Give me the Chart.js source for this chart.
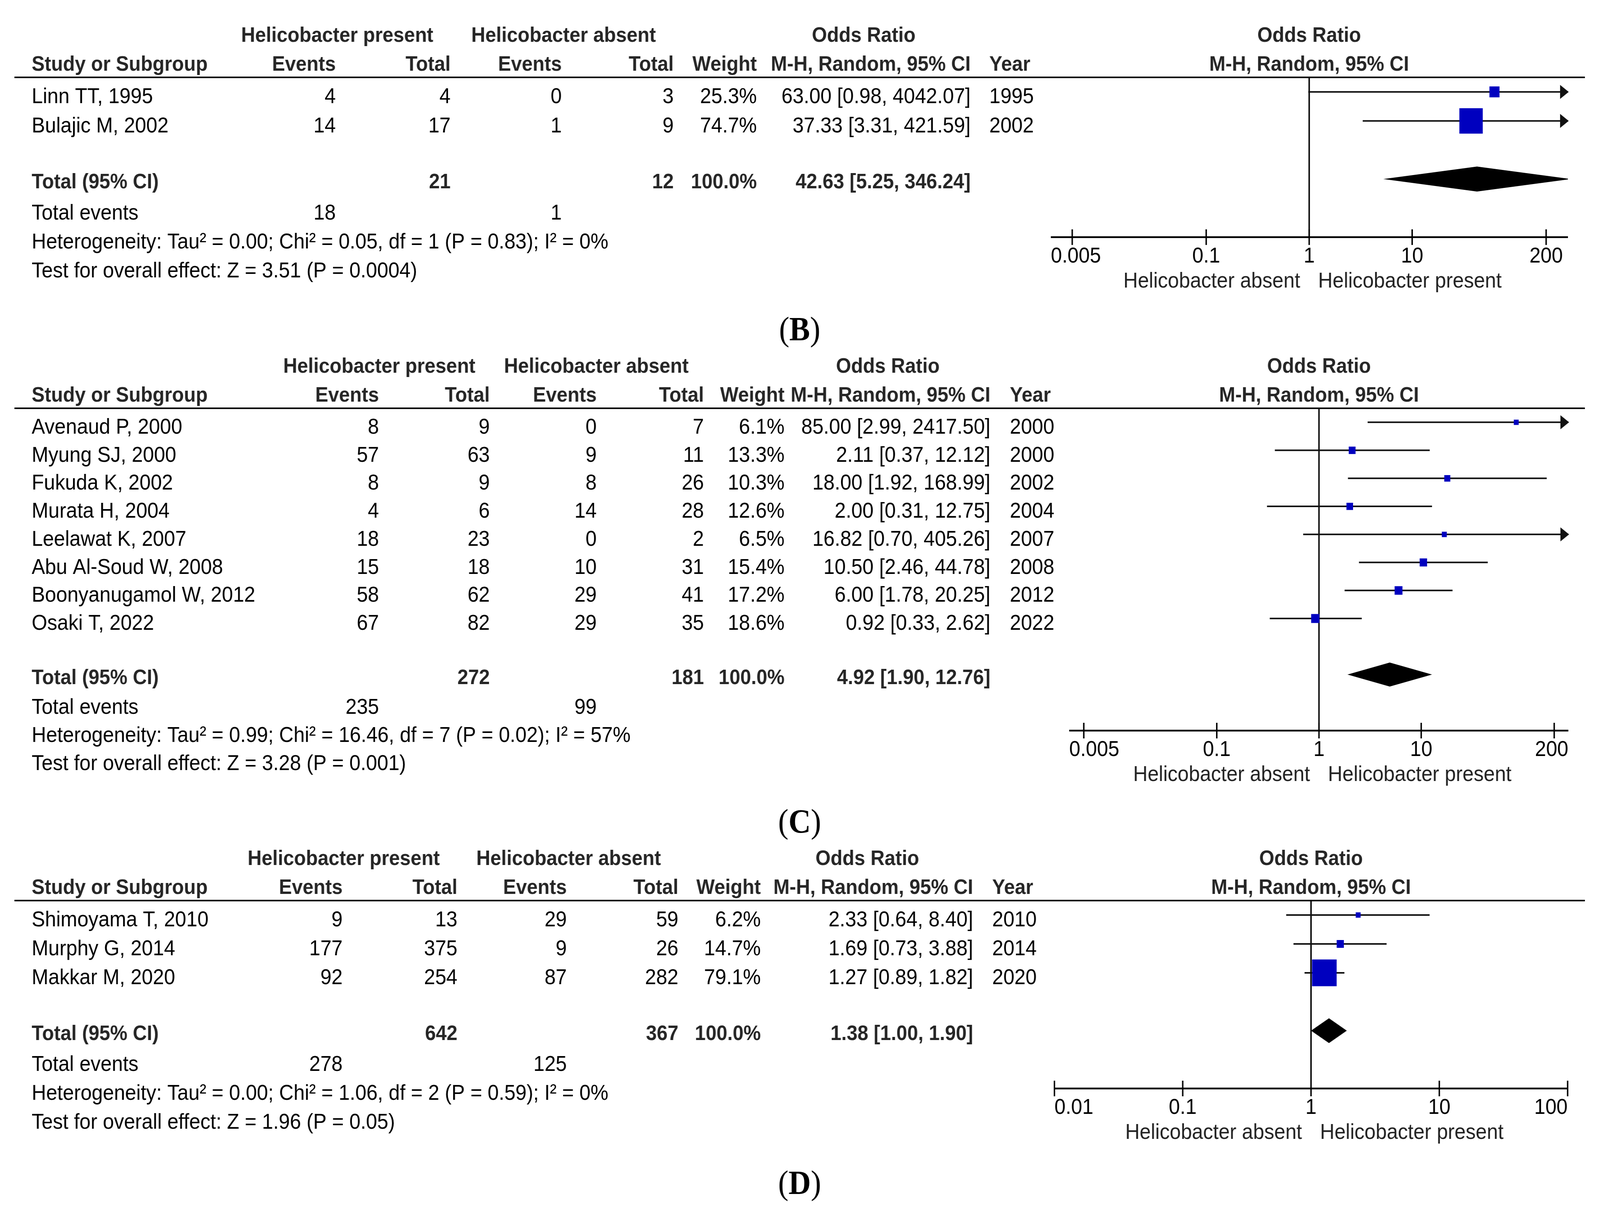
<!DOCTYPE html>
<html>
<head>
<meta charset="utf-8">
<script src="https://cdn.jsdelivr.net/npm/chart.js@4.4.0/dist/chart.umd.min.js"></script>
<style>
html, body { margin: 0; padding: 0; background: #fff; width: 100%; height: 100%; overflow: hidden; }
#forest-page { position: relative; width: 100vw; height: 100vh; overflow: hidden; background: #fff; }
#forest-page canvas { position: absolute; left: 0; top: 0; display: block; }
</style>
</head>
<body>
<div id="forest-page">
    <canvas id="forestB" width="4446" height="3097" style="width:100vw;height:100vh;"></canvas>
    <canvas id="forestC" width="4446" height="3097" style="width:100vw;height:100vh;"></canvas>
    <canvas id="forestD" width="4446" height="3097" style="width:100vw;height:100vh;"></canvas>
</div>

<script>
// ---- Panel B data
const studiesB = ['Linn TT, 1995', 'Bulajic M, 2002'];
const presEventsB = [4, 14];
const presTotalB = [4, 17];
const absEventsB = [0, 1];
const absTotalB = [3, 9];
const weightB = [25.3, 74.7];
const orB = [63.00, 37.33];
const loB = [0.98, 3.31];
const hiB = [4042.07, 421.59];
const yearB = [1995, 2002];
const totalsB = [21, 12];
const eventsB = [18, 1];
const pooledB = [42.63, 5.25, 346.24];
const hetB = 'Heterogeneity: Tau\u00b2 = 0.00; Chi\u00b2 = 0.05, df = 1 (P = 0.83); I\u00b2 = 0%';
const testB = 'Test for overall effect: Z = 3.51 (P = 0.0004)';
const ticksB = [0.005, 0.1, 1, 10, 200];
const tickLabelsB = ['0.005', '0.1', '1', '10', '200'];

// ---- Panel C data
const studiesC = ['Avenaud P, 2000', 'Myung SJ, 2000', 'Fukuda K, 2002', 'Murata H, 2004',
    'Leelawat K, 2007', 'Abu Al-Soud W, 2008', 'Boonyanugamol W, 2012', 'Osaki T, 2022'];
const presEventsC = [8, 57, 8, 4, 18, 15, 58, 67];
const presTotalC = [9, 63, 9, 6, 23, 18, 62, 82];
const absEventsC = [0, 9, 8, 14, 0, 10, 29, 29];
const absTotalC = [7, 11, 26, 28, 2, 31, 41, 35];
const weightC = [6.1, 13.3, 10.3, 12.6, 6.5, 15.4, 17.2, 18.6];
const orC = [85.00, 2.11, 18.00, 2.00, 16.82, 10.50, 6.00, 0.92];
const loC = [2.99, 0.37, 1.92, 0.31, 0.70, 2.46, 1.78, 0.33];
const hiC = [2417.50, 12.12, 168.99, 12.75, 405.26, 44.78, 20.25, 2.62];
const yearC = [2000, 2000, 2002, 2004, 2007, 2008, 2012, 2022];
const totalsC = [272, 181];
const eventsC = [235, 99];
const pooledC = [4.92, 1.90, 12.76];
const hetC = 'Heterogeneity: Tau\u00b2 = 0.99; Chi\u00b2 = 16.46, df = 7 (P = 0.02); I\u00b2 = 57%';
const testC = 'Test for overall effect: Z = 3.28 (P = 0.001)';
const ticksC = [0.005, 0.1, 1, 10, 200];
const tickLabelsC = ['0.005', '0.1', '1', '10', '200'];

// ---- Panel D data
const studiesD = ['Shimoyama T, 2010', 'Murphy G, 2014', 'Makkar M, 2020'];
const presEventsD = [9, 177, 92];
const presTotalD = [13, 375, 254];
const absEventsD = [29, 9, 87];
const absTotalD = [59, 26, 282];
const weightD = [6.2, 14.7, 79.1];
const orD = [2.33, 1.69, 1.27];
const loD = [0.64, 0.73, 0.89];
const hiD = [8.40, 3.88, 1.82];
const yearD = [2010, 2014, 2020];
const totalsD = [642, 367];
const eventsD = [278, 125];
const pooledD = [1.38, 1.00, 1.90];
const hetD = 'Heterogeneity: Tau\u00b2 = 0.00; Chi\u00b2 = 1.06, df = 2 (P = 0.59); I\u00b2 = 0%';
const testD = 'Test for overall effect: Z = 1.96 (P = 0.05)';
const ticksD = [0.01, 0.1, 1, 10, 100];
const tickLabelsD = ['0.01', '0.1', '1', '10', '100'];

(function() {
    'use strict';

    const PAGE_W = 4446, PAGE_H = 3097;
    const SANS = '"Liberation Sans", Arial, sans-serif';
    const SERIF = '"Liberation Serif", "Times New Roman", serif';
    const HEAD_COLOR = '#262626';
    const SQUARE_COLOR = '#0000BF';

    // page geometry of each panel (pixels of the 4446x3097 drawing)
    const layoutB = { label: 'B', labelY: 871, headerY: 198, axisY: 607, axisL: 2920, axisR: 4357,
        xMin: 0.0031, xMax: 326,
        presEv: 933, presTot: 1252, absEv: 1561, absTot: 1872, weight: 2103, orR: 2697, yearL: 2749,
        presHdr: 937, absHdr: 1566, orHdr: 2400 };
    const layoutC = { label: 'C', labelY: 2131, headerY: 1045, axisY: 1870, axisL: 2971, axisR: 4358,
        xMin: 0.0036, xMax: 275,
        presEv: 1053, presTot: 1361, absEv: 1658, absTot: 1956, weight: 2180, orR: 2752, yearL: 2806,
        presHdr: 1054, absHdr: 1657, orHdr: 2467 };
    const layoutD = { label: 'D', labelY: 3056, headerY: 2305, axisY: 2786, axisL: 2930, axisR: 4356,
        xMin: 0.01, xMax: 100,
        presEv: 952, presTot: 1271, absEv: 1575, absTot: 1885, weight: 2114, orR: 2704, yearL: 2757,
        presHdr: 955, absHdr: 1580, orHdr: 2410 };

    function fmt2(v) { return v.toFixed(2); }
    function ciText(o, l, h) { return fmt2(o) + ' [' + fmt2(l) + ', ' + fmt2(h) + ']'; }

    function text(ctx, s, x, y, align, bold, color) {
        ctx.font = (bold ? 'bold 54px ' : '55.6px ') + SANS;
        ctx.textAlign = align;
        ctx.textBaseline = 'alphabetic';
        ctx.fillStyle = color || '#000';
        ctx.fillText(String(s), x, y);
    }

    function line(ctx, x1, y1, x2, y2) {
        ctx.beginPath();
        ctx.moveTo(x1, y1);
        ctx.lineTo(x2, y2);
        ctx.stroke();
    }

    function makeForest(canvasId, d, L) {
        const n = d.studies.length;

        const forestPlugin = {
            id: 'forestParts',
            beforeDatasetsDraw(chart) {
                const ctx = chart.ctx, xs = chart.scales.x, ys = chart.scales.y, a = chart.chartArea;
                const x1 = xs.getPixelForValue(1);
                ctx.save();
                ctx.lineCap = 'butt';
                ctx.strokeStyle = '#000';

                // header rule across the whole table
                ctx.lineWidth = 4;
                line(ctx, 40, a.top, 4404, a.top);

                // line of no effect
                line(ctx, x1, a.top, x1, a.bottom);

                // confidence intervals
                ctx.strokeStyle = '#111';
                ctx.fillStyle = '#111';
                for (let i = 0; i < n; i++) {
                    const yy = ys.getPixelForValue(i);
                    const pl = Math.max(a.left, xs.getPixelForValue(d.lo[i]));
                    const ph = Math.min(a.right, xs.getPixelForValue(d.hi[i]));
                    ctx.lineWidth = 4;
                    line(ctx, pl, yy, ph, yy);
                    if (d.hi[i] > L.xMax) {
                        ctx.beginPath();
                        ctx.moveTo(a.right + 2, yy);
                        ctx.lineTo(a.right - 22, yy - 18);
                        ctx.lineTo(a.right - 22, yy + 18);
                        ctx.closePath();
                        ctx.fill();
                    }
                    if (d.lo[i] < L.xMin) {
                        ctx.beginPath();
                        ctx.moveTo(a.left - 2, yy);
                        ctx.lineTo(a.left + 22, yy - 18);
                        ctx.lineTo(a.left + 22, yy + 18);
                        ctx.closePath();
                        ctx.fill();
                    }
                }

                // pooled estimate diamond
                const yt = ys.getPixelForValue(n + 1);
                const half = Math.abs(ys.getPixelForValue(0.43) - ys.getPixelForValue(0));
                ctx.save();
                ctx.beginPath();
                ctx.rect(a.left, a.top, a.right - a.left, a.bottom - a.top);
                ctx.clip();
                ctx.fillStyle = '#000';
                ctx.beginPath();
                ctx.moveTo(xs.getPixelForValue(d.pooled[1]), yt);
                ctx.lineTo(xs.getPixelForValue(d.pooled[0]), yt - half);
                ctx.lineTo(xs.getPixelForValue(d.pooled[2]), yt);
                ctx.lineTo(xs.getPixelForValue(d.pooled[0]), yt + half);
                ctx.closePath();
                ctx.fill();
                ctx.restore();

                // x axis with ticks
                ctx.strokeStyle = '#000';
                ctx.lineWidth = 4.5;
                line(ctx, a.left, a.bottom, a.right, a.bottom);
                ctx.lineWidth = 4;
                ctx.font = '55.6px ' + SANS;
                ctx.fillStyle = '#000';
                ctx.textAlign = 'left';
                ctx.textBaseline = 'alphabetic';
                d.ticks.forEach(function(t, k) {
                    const tx = xs.getPixelForValue(t);
                    line(ctx, tx, a.bottom - 20, tx, a.bottom + 20);
                    const w = ctx.measureText(d.tickLabels[k]).width;
                    const lx = Math.min(Math.max(tx - w / 2, a.left), a.right - w);
                    ctx.fillText(d.tickLabels[k], lx, a.bottom + 65);
                });
                text(ctx, 'Helicobacter absent', x1 - 25, a.bottom + 129, 'right', false, '#222');
                text(ctx, 'Helicobacter present', x1 + 25, a.bottom + 129, 'left', false, '#222');
                ctx.restore();
            },
            afterDraw(chart) {
                const ctx = chart.ctx, ys = chart.scales.y, xs = chart.scales.x;
                const top = chart.chartArea.top;
                const base = function(row) { return ys.getPixelForValue(row) + 29; };
                const x1 = xs.getPixelForValue(1);
                ctx.save();

                // column headings
                const h1 = top - 91, h2 = top - 17;
                text(ctx, 'Helicobacter present', L.presHdr, h1, 'center', true, HEAD_COLOR);
                text(ctx, 'Helicobacter absent', L.absHdr, h1, 'center', true, HEAD_COLOR);
                text(ctx, 'Odds Ratio', L.orHdr, h1, 'center', true, HEAD_COLOR);
                text(ctx, 'Odds Ratio', x1, h1, 'center', true, HEAD_COLOR);
                text(ctx, 'Study or Subgroup', 88, h2, 'left', true, HEAD_COLOR);
                text(ctx, 'Events', L.presEv, h2, 'right', true, HEAD_COLOR);
                text(ctx, 'Total', L.presTot, h2, 'right', true, HEAD_COLOR);
                text(ctx, 'Events', L.absEv, h2, 'right', true, HEAD_COLOR);
                text(ctx, 'Total', L.absTot, h2, 'right', true, HEAD_COLOR);
                text(ctx, 'Weight', L.weight, h2, 'right', true, HEAD_COLOR);
                text(ctx, 'M-H, Random, 95% CI', L.orR, h2, 'right', true, HEAD_COLOR);
                text(ctx, 'Year', L.yearL, h2, 'left', true, HEAD_COLOR);
                text(ctx, 'M-H, Random, 95% CI', x1, h2, 'center', true, HEAD_COLOR);

                // study rows
                for (let i = 0; i < n; i++) {
                    const yb = base(i);
                    text(ctx, d.studies[i], 88, yb, 'left');
                    text(ctx, d.presEvents[i], L.presEv, yb, 'right');
                    text(ctx, d.presTotal[i], L.presTot, yb, 'right');
                    text(ctx, d.absEvents[i], L.absEv, yb, 'right');
                    text(ctx, d.absTotal[i], L.absTot, yb, 'right');
                    text(ctx, d.weight[i].toFixed(1) + '%', L.weight, yb, 'right');
                    text(ctx, ciText(d.or[i], d.lo[i], d.hi[i]), L.orR, yb, 'right');
                    text(ctx, d.year[i], L.yearL, yb, 'left');
                }

                // pooled row
                const yt = ys.getPixelForValue(n + 1) + 24;
                text(ctx, 'Total (95% CI)', 88, yt, 'left', true, HEAD_COLOR);
                text(ctx, d.totals[0], L.presTot, yt, 'right', true, HEAD_COLOR);
                text(ctx, d.totals[1], L.absTot, yt, 'right', true, HEAD_COLOR);
                text(ctx, '100.0%', L.weight, yt, 'right', true, HEAD_COLOR);
                text(ctx, ciText(d.pooled[0], d.pooled[1], d.pooled[2]), L.orR, yt, 'right', true, HEAD_COLOR);

                // summary lines
                text(ctx, 'Total events', 88, base(n + 2), 'left');
                text(ctx, d.events[0], L.presEv, base(n + 2), 'right');
                text(ctx, d.events[1], L.absEv, base(n + 2), 'right');
                text(ctx, d.het, 88, base(n + 3), 'left');
                text(ctx, d.test, 88, base(n + 4), 'left');

                // panel label "(B)" etc.
                ctx.textAlign = 'left';
                ctx.textBaseline = 'alphabetic';
                ctx.fillStyle = '#000';
                ctx.font = '86px ' + SERIF;
                const wo = ctx.measureText('(').width, wc = ctx.measureText(')').width;
                ctx.font = 'bold 86px ' + SERIF;
                const wl = ctx.measureText(L.label).width;
                const lx = 2222 - (wo + wl + wc) / 2;
                ctx.font = '86px ' + SERIF;
                ctx.fillText('(', lx, L.labelY);
                ctx.font = 'bold 86px ' + SERIF;
                ctx.fillText(L.label, lx + wo, L.labelY);
                ctx.font = '86px ' + SERIF;
                ctx.fillText(')', lx + wo + wl, L.labelY);
                ctx.restore();
            }
        };

        return new Chart(document.getElementById(canvasId), {
            type: 'scatter',
            data: {
                datasets: [{
                    label: 'Odds ratio',
                    data: d.or.map(function(v, i) { return { x: v, y: i }; }),
                    pointStyle: 'rect',
                    pointRadius: d.weight.map(function(w) { return (9 + 0.75 * w) / Math.SQRT2; }),
                    pointHoverRadius: d.weight.map(function(w) { return (9 + 0.75 * w) / Math.SQRT2; }),
                    backgroundColor: SQUARE_COLOR,
                    borderColor: SQUARE_COLOR,
                    borderWidth: 0,
                    clip: false
                }]
            },
            options: {
                responsive: false,
                maintainAspectRatio: false,
                animation: false,
                devicePixelRatio: 1,
                events: [],
                layout: {
                    padding: { left: L.axisL, right: PAGE_W - L.axisR, top: L.headerY, bottom: PAGE_H - L.axisY }
                },
                plugins: { legend: { display: false }, tooltip: { enabled: false } },
                scales: {
                    x: { type: 'logarithmic', min: L.xMin, max: L.xMax, bounds: 'data', display: false },
                    y: { type: 'linear', min: -0.5, max: n + 3, reverse: true, bounds: 'data', display: false }
                }
            },
            plugins: [forestPlugin]
        });
    }

    function init() {
        if (typeof Chart === 'undefined') {
            setTimeout(init, 50);
            return;
        }
        makeForest('forestB', {
            studies: studiesB, presEvents: presEventsB, presTotal: presTotalB, absEvents: absEventsB,
            absTotal: absTotalB, weight: weightB, or: orB, lo: loB, hi: hiB, year: yearB,
            totals: totalsB, events: eventsB, pooled: pooledB, het: hetB, test: testB,
            ticks: ticksB, tickLabels: tickLabelsB
        }, layoutB);
        makeForest('forestC', {
            studies: studiesC, presEvents: presEventsC, presTotal: presTotalC, absEvents: absEventsC,
            absTotal: absTotalC, weight: weightC, or: orC, lo: loC, hi: hiC, year: yearC,
            totals: totalsC, events: eventsC, pooled: pooledC, het: hetC, test: testC,
            ticks: ticksC, tickLabels: tickLabelsC
        }, layoutC);
        makeForest('forestD', {
            studies: studiesD, presEvents: presEventsD, presTotal: presTotalD, absEvents: absEventsD,
            absTotal: absTotalD, weight: weightD, or: orD, lo: loD, hi: hiD, year: yearD,
            totals: totalsD, events: eventsD, pooled: pooledD, het: hetD, test: testD,
            ticks: ticksD, tickLabels: tickLabelsD
        }, layoutD);
    }

    init();
})();
</script>
</body>
</html>
